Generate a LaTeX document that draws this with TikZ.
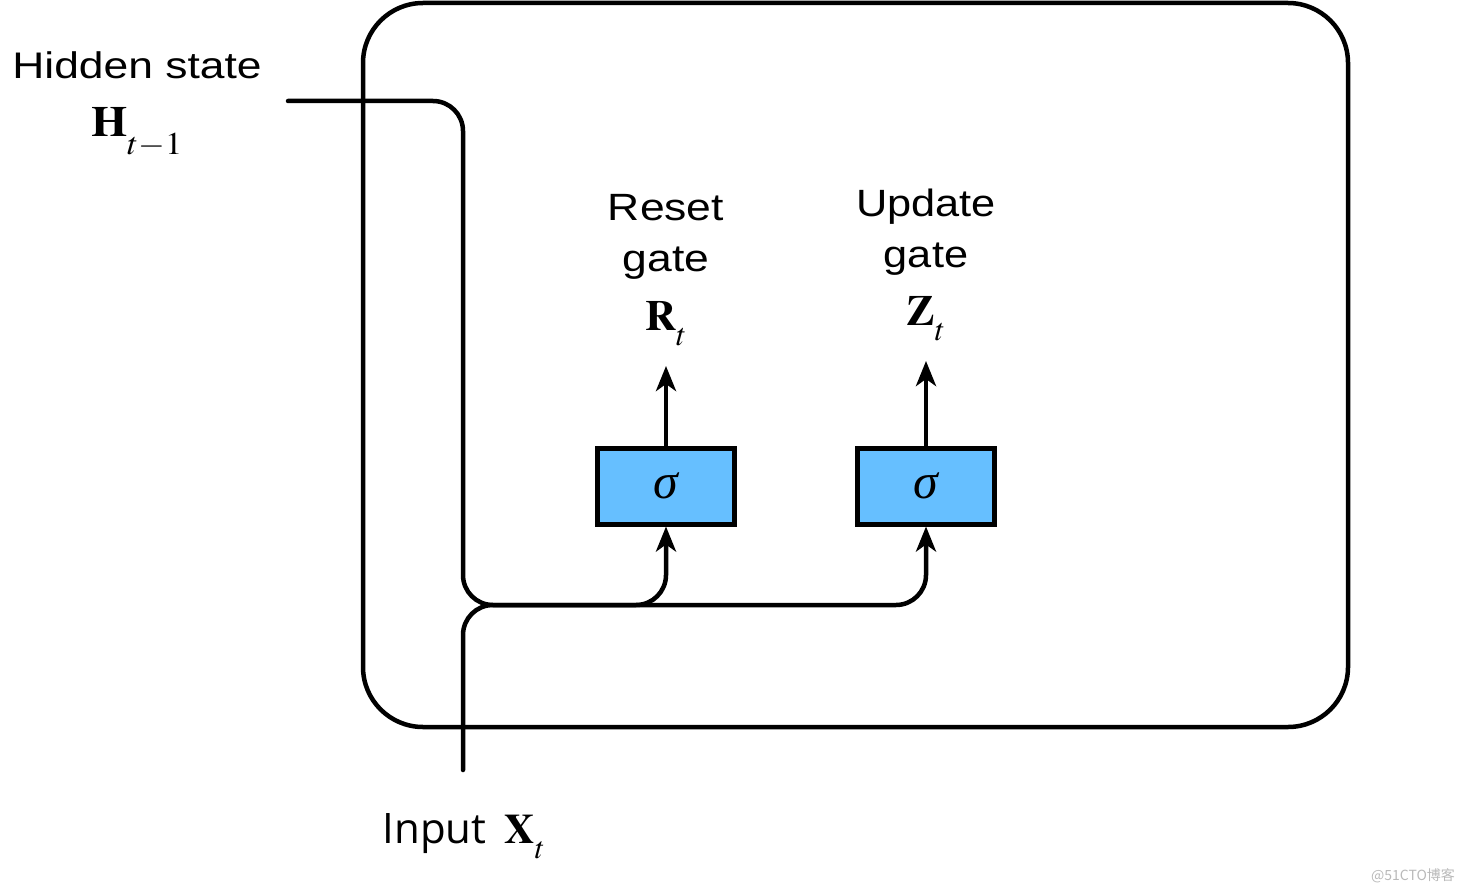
\documentclass[tikz,border=0pt]{standalone}
\usepackage{mathptmx}
\usepackage[no-math]{fontspec}
\setmainfont{Liberation Sans}
\newfontfamily\serif{Liberation Serif}
\newfontfamily\opensans{Open Sans}
\newfontfamily\cjk{Noto Sans CJK SC}
\usetikzlibrary{arrows.meta,positioning}
\definecolor{gatefill}{RGB}{102,191,255}
\definecolor{wmark}{RGB}{185,185,185}
\newcommand{\wtxt}[2]{\scalebox{#1}[1]{#2}}
\newcommand{\lowsub}[2]{\raisebox{-#1}{$\scriptstyle #2$}}

\begin{document}
\begin{tikzpicture}[x=1pt, y=-1pt,
  wire/.style={line width=4.5pt, line cap=round, rounded corners=30pt},
  tip/.style={-{Stealth[length=25pt,width=20pt,inset=7pt]}},
  sigbox/.style={draw, line width=5pt, fill=gatefill, minimum width=137pt,
    minimum height=76pt, inner sep=0pt, font=\serif\itshape\fontsize{50}{50}\selectfont},
  lbl/.style={anchor=base, inner sep=2pt, font=\fontsize{38}{38}\selectfont},
  sym/.style={lbl, font=\fontsize{43}{43}\selectfont}]
\useasboundingbox (0,0) rectangle (1466,893);

% cell outline
\draw[line width=4.5pt, rounded corners=60pt] (363,3) rectangle (1348,727);

% gates
\node[sigbox] (rbox) at (666,486) {σ};
\node[sigbox] (ubox) at (926,486) {σ};

% gate labels
\node[lbl] (rword) at (666,221) {\wtxt{1.17}{Reset}};
\node[lbl] (rgate) at (666,272) {\wtxt{1.17}{gate}};
\node[sym] (rR) at (666,330) {$\mathbf{R}_{\lowsub{9pt}{t}}$};
\node[lbl] (uword) at (926,217) {\wtxt{1.14}{Update}};
\node[lbl] (ugate) at (926,267) {\wtxt{1.14}{gate}};
\node[sym] (uZ) at (926,325) {$\mathbf{Z}_{\lowsub{9pt}{t}}$};

% inputs
\node[lbl, font=\fontsize{37}{37}\selectfont] (hword) at (137,79) {\wtxt{1.2}{Hidden state}};
\node[sym] (hH) at (137,137) {\wtxt{1.08}{$\mathbf{H}_{\lowsub{11pt}{t{-}1}}$}};
\node[lbl, font=\opensans\fontsize{42}{42}\selectfont] (xword) at (464,843) {Input\, $\mathbf{X}_{\lowsub{9pt}{t}}$};

\coordinate (hin) at (288,101);
\coordinate (xin) at (463,770);
\coordinate (bus) at (463,605);

% wires
\draw[wire, tip] (hin) -| (bus) -| (rbox.south);
\draw[wire, tip] (xin) -- (bus) -| (ubox.south);
\draw[wire, tip, shorten >=18pt] (rbox) -- (rR);
\draw[wire, tip, shorten >=18pt] (ubox) -- (uZ);

\node[font=\cjk\fontsize{14}{14}\selectfont, text=wmark] (wm) at (1413,876) {@51CTO博客};
\end{tikzpicture}
\end{document}
